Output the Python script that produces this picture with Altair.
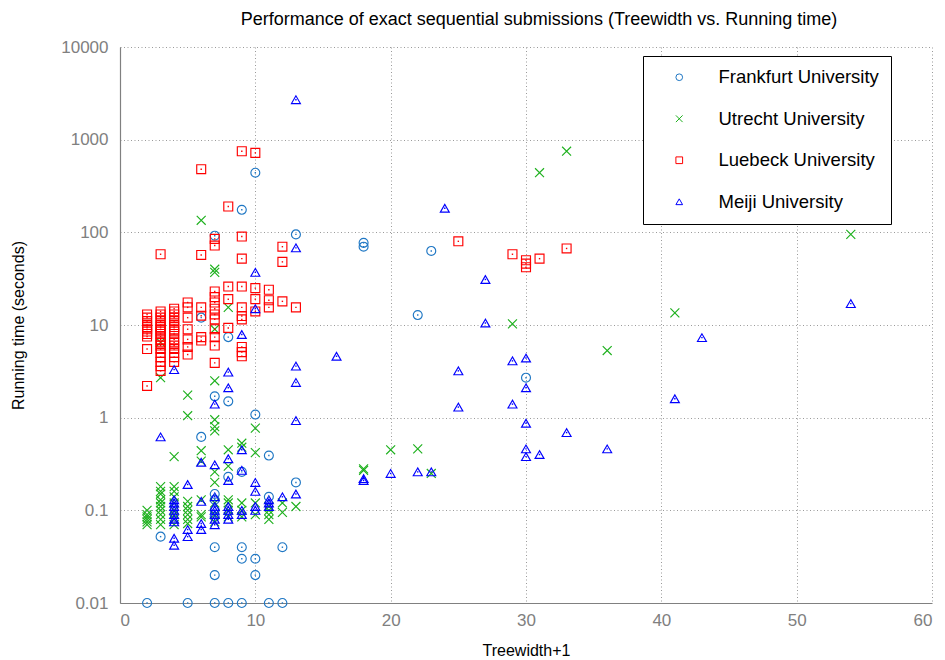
import altair as alt
import pandas as pd

# ---------------- data ----------------
teams = ["Frankfurt University", "Utrecht University", "Luebeck University", "Meiji University"]
team_colors = ["#1f77c4", "#1db01d", "#ff0000", "#0000ff"]

frankfurt_x = [2, 3, 5, 6, 6, 7, 7, 7, 7, 7, 7, 7, 7, 7, 8, 8, 8, 8, 9, 9, 9, 9, 9,
               10, 10, 10, 10, 11, 11, 11, 12, 12, 13, 13, 18, 18, 22, 23, 30]
frankfurt_y = [0.01, 0.052, 0.01, 0.62, 12, 92, 1.7, 0.15, 0.13, 0.1, 0.085, 0.04, 0.02, 0.01,
               7.4, 1.5, 0.23, 0.01, 175, 0.26, 0.04, 0.03, 0.01,
               440, 1.08, 0.03, 0.02, 0.39, 0.14, 0.01, 0.04, 0.01, 95, 0.2, 77, 70, 12.8, 63, 2.7]

utrecht_x = [2, 2, 2, 2, 2, 2,
             3, 3, 3, 3, 3, 3, 3, 3, 3, 3, 3, 3,
             4, 4, 4, 4, 4, 4, 4, 4, 4,
             5, 5, 5, 5, 5, 5, 5, 5,
             6, 6, 6, 6, 6, 6,
             7, 7, 7, 7, 7, 7, 7, 7, 7, 7, 7, 7,
             8, 8, 8, 8, 8, 8, 8,
             9, 9, 9, 9, 9,
             10, 10, 10, 10,
             11, 11, 11, 11,
             12, 12, 13,
             18, 18, 20, 22, 23, 29, 31, 33, 36, 41, 54]
utrecht_y = [0.1, 0.09, 0.085, 0.08, 0.075, 0.07,
             6.5, 2.7, 0.18, 0.16, 0.15, 0.13, 0.12, 0.11, 0.1, 0.09, 0.08, 0.07,
             0.38, 0.18, 0.16, 0.14, 0.12, 0.1, 0.09, 0.08, 0.07,
             1.75, 1.05, 0.125, 0.11, 0.1, 0.09, 0.08, 0.072,
             135, 0.44, 0.34, 0.13, 0.09, 0.085,
             40, 37, 9, 2.5, 0.95, 0.8, 0.72, 0.26, 0.2, 0.12, 0.09, 0.075,
             15.5, 0.45, 0.3, 0.13, 0.12, 0.1, 0.085,
             0.53, 0.48, 0.12, 0.1, 0.085,
             0.77, 0.42, 0.12, 0.09,
             0.11, 0.1, 0.09, 0.08,
             0.12, 0.095, 0.11,
             0.28, 0.27, 0.45, 0.46, 0.25, 10.3, 440, 750, 5.3, 13.5, 95]

luebeck_x = [2, 2, 2, 2, 2, 2, 2, 2, 2, 2, 2,
             3, 3, 3, 3, 3, 3, 3, 3, 3, 3, 3, 3, 3, 3, 3, 3, 3, 3, 3, 3,
             4, 4, 4, 4, 4, 4, 4, 4, 4, 4, 4, 4, 4, 4, 4, 4, 4,
             5, 5, 5, 5, 5, 5, 5,
             6, 6, 6, 6, 6, 6,
             7, 7, 7, 7, 7, 7, 7, 7, 7, 7, 7, 7,
             8, 8, 8, 8,
             9, 9, 9, 9, 9, 9, 9, 9, 9, 9,
             10, 10, 10, 10,
             11, 11, 11,
             12, 12, 12, 13,
             25, 29, 30, 30, 30, 31, 33]
luebeck_y = [13, 12, 11, 10, 9.5, 9, 8.5, 8, 7.5, 5.5, 2.2,
             58, 14, 13, 12, 11, 10, 9.5, 9, 8.5, 8, 7.5, 7, 6.5, 6, 5.5, 5, 4.5, 4, 3.6, 3.2,
             15, 14, 13, 12, 11, 10, 9.5, 9, 8.5, 8, 7, 6.5, 6, 5.5, 5, 4.5, 4,
             17.5, 15.5, 12, 9, 7, 5.8, 4.8,
             480, 57, 15.5, 12.6, 7.4, 6.8,
             85, 72, 23, 20, 17.5, 15, 13, 11.5, 9, 7.4, 6, 3.9,
             190, 26, 19, 9.3,
             750, 90, 52, 26, 15.5, 12.5, 11.5, 5.8, 5.1, 4.6,
             720, 25, 19, 14,
             24, 18.5, 15.5,
             70, 48, 18, 15.5,
             80, 58, 50, 46, 42, 52, 67]

meiji_x = [3, 4, 4, 4, 4, 4, 4, 4, 4, 4, 4,
           5, 5, 5,
           6, 6, 6, 6,
           7, 7, 7, 7, 7, 7, 7, 7,
           8, 8, 8, 8, 8, 8, 8, 8,
           9, 9, 9, 9, 9,
           10, 10, 10, 10, 10, 10,
           11, 11, 11, 12,
           13, 13, 13, 13, 13, 13,
           16, 18, 18, 20, 22, 23, 24, 25, 25, 27, 27, 29, 29,
           30, 30, 30, 30, 30, 31, 33, 36, 41, 43, 54]
meiji_y = [0.62, 3.3, 0.13, 0.12, 0.11, 0.1, 0.09, 0.08, 0.075, 0.05, 0.042,
           0.19, 0.062, 0.052,
           0.33, 0.125, 0.072, 0.062,
           1.4, 0.31, 0.14, 0.11, 0.1, 0.09, 0.08, 0.07,
           3.1, 2.1, 0.36, 0.21, 0.11, 0.1, 0.09, 0.08,
           7.9, 0.45, 0.27, 0.1, 0.09,
           37, 15, 0.2, 0.16, 0.11, 0.1,
           0.13, 0.12, 0.11, 0.14,
           2700, 68, 3.6, 2.4, 0.93, 0.15,
           4.6, 0.22, 0.21, 0.25, 0.26, 0.26, 182, 3.2, 1.3, 31, 10.5, 4.1, 1.4,
           4.4, 2.1, 0.87, 0.46, 0.38, 0.4, 0.69, 0.46, 1.6, 7.3, 17]

x_ticks = [0, 10, 20, 30, 40, 50, 60]
y_ticks = [0.01, 0.1, 1, 10, 100, 1000, 10000]

# ---------------- table ----------------
rows = []
for name, xs, ys in [(teams[0], frankfurt_x, frankfurt_y),
                     (teams[1], utrecht_x, utrecht_y),
                     (teams[2], luebeck_x, luebeck_y),
                     (teams[3], meiji_x, meiji_y)]:
    for xv, yv in zip(xs, ys):
        rows.append({"team": name, "tw": xv, "time": yv})
df = pd.DataFrame(rows)
df["order"] = range(len(df))

FONT = "Liberation Sans"
X_SHAPE = "M-1,-1L1,1M-1,1L1,-1"
shapes = ["circle", X_SHAPE, "square", "triangle-up"]

x_enc = alt.X("tw:Q",
              scale=alt.Scale(domain=[0, 60], nice=False, zero=False),
              axis=alt.Axis(values=x_ticks, title="Treewidth+1", format="d"))
y_enc = alt.Y("time:Q",
              scale=alt.Scale(type="log", domain=[0.01, 10000], nice=False),
              axis=alt.Axis(values=y_ticks, title="Running time (seconds)", format="~g"))

legend_def = alt.Legend(title=None, symbolFillColor="transparent")
color_enc = alt.Color("team:N", scale=alt.Scale(domain=teams, range=team_colors),
                      legend=legend_def)
shape_enc = alt.Shape("team:N", scale=alt.Scale(domain=teams, range=shapes),
                      legend=legend_def)

points = alt.Chart(df).mark_point(filled=False, size=80, strokeWidth=1.15, opacity=1).encode(
    x=x_enc, y=y_enc, color=color_enc, shape=shape_enc, order="order:Q"
)

# small centre dots inside circles, squares and triangles (one layer per team)
dot_layers = []
for name, col in zip(teams, team_colors):
    if name == "Utrecht University":
        continue
    dot_layers.append(
        alt.Chart(df).transform_filter(alt.datum.team == name)
        .mark_point(filled=True, shape="square", size=2, opacity=1, strokeWidth=0, color=col)
        .encode(x="tw:Q", y="time:Q")
    )

chart = alt.layer(points, *dot_layers).properties(
    width=812, height=556,
    autosize=alt.AutoSizeParams(type="none"),
    padding={"left": 112, "top": 39, "right": 5, "bottom": 62},
    title=alt.TitleParams(
        "Performance of exact sequential submissions (Treewidth vs. Running time)",
        font=FONT, fontSize=18, fontWeight="normal", color="#000000", offset=9, dx=13,
    ),
).configure_view(
    stroke=None
).configure_axis(
    labelFont=FONT, labelFontSize=17, labelColor="#808080",
    titleFont=FONT, titleFontSize=16, titleFontWeight="normal", titleColor="#000000",
    grid=True, gridColor="#9a9a9a", gridDash=[1, 2.5], gridWidth=1,
    domainColor="#808080", domainWidth=1.2,
    ticks=False,
).configure_axisX(
    labelPadding=9, titlePadding=14,
).configure_axisY(
    labelPadding=12, titlePadding=34,
).configure_legend(
    orient="none", legendX=523, legendY=9,
    strokeColor="#000000", fillColor="#ffffff", padding=12,
    labelFont=FONT, labelFontSize=18.5, labelColor="#000000", labelLimit=400,
    symbolSize=45, symbolStrokeWidth=1, symbolOffset=15, labelOffset=30,
    symbolFillColor="transparent",
    rowPadding=22.5,
)

chart.save("out.html", embed_options={"renderer": "svg", "actions": False})
